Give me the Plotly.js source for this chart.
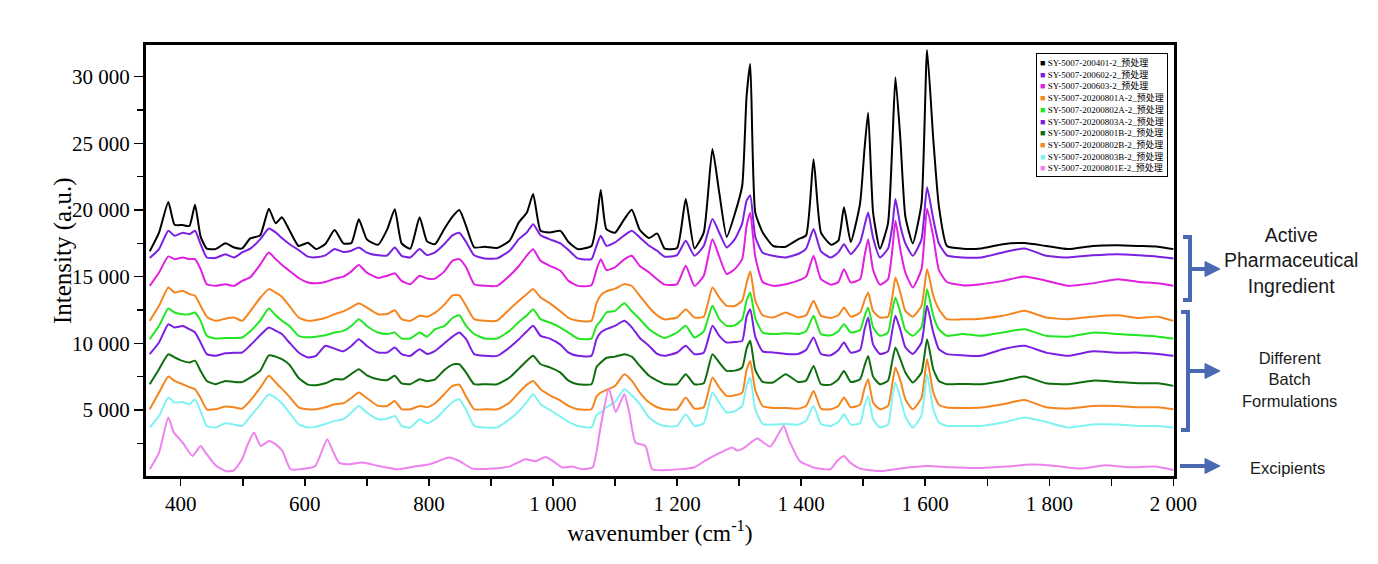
<!DOCTYPE html>
<html>
<head>
<meta charset="utf-8">
<script src="https://cdn.plot.ly/plotly-3.0.1.min.js"></script>
<style>html,body{margin:0;padding:0;background:#fff;}#chart{width:1378px;height:564px;}</style>
</head>
<body>
<div id="chart"></div>
<script>
// ---------------- data ----------------
const wavenumber = [350,365,380,390,403,414,423,432,442,456,
472,486,499,512,528,542,553,563,575,590,
605,618,633,648,662,675,687,700,718,733,
745,756,770,785,797,810,825,838,849,860,
873,890,910,930,945,958,968,980,995,1012,
1025,1040,1062,1070,1077,1086,1100,1115,1127,1140,
1155,1168,1180,1200,1214,1228,1243,1257,1268,1280,
1293,1305,1312,1318,1326,1338,1355,1375,1395,1408,
1420,1432,1448,1460,1469,1480,1495,1502,1508,1516,
1527,1540,1547,1552,1560,1568,1580,1594,1603,1613,
1622,1635,1660,1690,1725,1760,1795,1830,1870,1910,1945,1975,2000];

const api200401 = [16900,18300,20600,18900,18870,18800,20400,18000,17100,17066,
17500,17190,17120,17870,18100,20100,19000,19450,18500,17300,
17550,17066,17450,18500,17500,17515,19300,17800,17400,18570,
20050,17500,17100,19450,17650,17440,18600,19500,20000,18800,
17200,17240,17150,17690,19070,19820,21200,18440,18320,18440,
17600,17066,17300,19000,21500,18570,18300,19320,20020,18500,
17900,18245,17100,17150,20820,17120,18300,24570,21300,17990,
19700,21820,28500,30950,19820,18320,17300,17250,17800,18100,
23800,18300,17400,17700,20200,17600,20500,24500,27300,19800,
17100,19000,25000,29960,25300,19500,17500,20500,32000,25300,
20300,17300,17100,17120,17440,17520,17300,17066,17300,17350,17300,17250,17066];

const api200602 = [16400,17070,18440,18065,18300,18190,18440,17440,16440,16400,
16690,16440,16820,17100,17800,18620,18320,17900,17450,17000,
16500,16450,16600,17070,16850,16950,17190,16800,16600,16600,
17190,16565,16440,17070,16615,16820,17450,18100,18300,17600,
16600,16370,16370,16940,17815,18320,18940,18100,17800,17500,
17000,16370,16315,17300,18065,17315,17570,18100,18440,17940,
17315,16940,16500,16615,17690,16565,17300,19320,18300,17190,
17800,19000,20700,21100,18000,16800,16565,16440,16700,17100,
18570,16900,16440,16820,17440,16690,17570,18800,19820,17900,
16440,17100,18800,20820,18800,17500,16565,17800,21700,19320,
17500,16600,16440,16440,16820,17115,16565,16440,16600,16690,16600,16500,16365];

const api200603 = [14310,15315,16520,16315,16440,16315,16315,15565,14435,14310,
14435,14310,14685,14950,15900,16815,16315,15900,15450,14900,
14560,14500,14600,14850,15000,15400,15880,15300,14900,15065,
15250,14685,14435,15065,14865,14850,15400,16200,16315,15700,
14435,14310,14310,15065,15800,16600,17065,16190,15815,15440,
14685,14310,14360,15500,16315,15500,15700,16300,16565,15800,
15315,14800,14400,14435,15815,14310,15065,17815,16500,15190,
15565,16315,18800,19800,16500,14600,14310,14435,14700,15000,
16565,14810,14400,14600,15565,14560,14810,16500,17815,15500,
14400,14810,17000,19190,17000,15300,14190,15565,20100,18000,
15500,14600,14350,14435,14685,15015,14700,14310,14500,14810,14600,14500,14310];

const f20200801A = [11685,12810,14190,13815,13940,13690,13565,12810,12000,11685,
11850,11935,11685,12400,13400,14065,13800,13500,12810,11935,
11685,11750,11900,12185,12400,12700,13010,12685,12185,12200,
12485,11810,11685,12060,12000,12300,12900,13600,13600,12810,
11810,11685,11700,12560,13190,13700,14065,13440,13000,12400,
11900,11685,11685,13000,13600,13900,14100,14440,14300,13565,
12685,12100,11800,11935,12560,11935,12000,14190,13440,12810,
12800,13200,14500,15400,13200,12100,11935,12310,11950,12100,
13185,12060,11900,12100,12685,12000,12300,13200,13815,12400,
11935,12000,13500,14940,13800,12435,12000,12810,15565,13565,
12560,11810,11800,11850,12060,12435,11935,11810,12000,12100,11900,12000,11685];

const f20200802A = [10310,11310,12610,12310,12185,12185,12310,11685,10560,10360,
10400,10400,10435,10900,11700,12610,12100,11700,11310,10560,
10450,10500,10600,10810,10935,11300,11810,11300,10810,10700,
10800,10360,10360,10810,10500,11060,11300,11900,12110,11300,
10700,10360,10360,10935,11600,12100,12560,11810,11560,11185,
10800,10360,10350,11300,11690,12310,12435,13000,12400,11810,
11060,10650,10400,10810,11310,10435,10900,12810,11810,11310,
11350,11810,13200,13815,11900,10800,10690,10750,10700,10900,
12060,10690,10600,10900,11435,10810,11000,12000,12685,11200,
10560,10800,12500,13440,12300,11000,10560,11200,14060,12060,
11060,10560,10700,10560,10810,11060,10560,10500,10800,10700,10600,10500,10360];

const f20200803A = [9185,10060,11435,11185,11300,11060,10810,10060,9185,9060,
9250,9300,9310,9850,10600,11185,10950,10700,10060,9310,
8935,9060,9810,9600,9400,9800,10310,9800,9310,9310,
9685,9185,9060,9560,9200,9435,10000,10500,10810,10310,
9185,9060,9060,9685,10300,10900,11310,10560,10350,9900,
9300,9060,9060,10300,10810,11060,11310,11685,11200,10400,
9800,9200,9060,9310,9810,9185,9300,11310,10560,10060,
10100,10185,12000,12560,10500,9400,9310,9200,9200,9500,
10435,9200,9100,9500,10060,9300,9500,11000,11935,9900,
9200,9400,11000,12060,11000,9700,9200,10060,12810,10810,
9560,9185,9100,9060,9560,9810,9300,9060,9400,9300,9300,9200,9060];

const f20200801B = [6930,8060,9185,8950,8680,8555,8700,7930,7180,6930,
7180,7100,7100,7430,7930,9100,9000,8805,8400,7400,
6900,6855,7000,7310,7300,7700,8060,7600,7310,7250,
7560,7000,6930,7310,7150,7300,8000,8400,8430,7800,
6930,6930,6930,7430,8100,8700,9060,8430,8200,7800,
7200,6930,6930,8200,8555,8900,9000,9185,9000,8305,
7560,7200,6950,6930,7680,6930,7000,9185,8560,7930,
7950,8185,9600,10185,8000,7100,7060,7685,7100,7200,
8305,6930,6900,7300,7930,7100,7300,8300,9055,7500,
6930,7200,8700,9685,8800,7810,7060,7810,10310,8055,
7180,6930,6950,6930,7180,7510,7000,6930,7200,7100,7000,7000,6805];

const f20200802B = [5050,6305,7510,7180,6930,6700,6555,5900,5050,5050,
5250,5200,5100,5700,6650,7560,7055,6600,6000,5200,
5050,5050,5200,5430,5500,5900,6305,5900,5305,5300,
5680,5050,5050,5305,5200,5500,6200,6800,6900,6000,
5050,5050,5050,5555,6300,6900,7180,6555,6100,5700,
5300,5050,5050,6000,6305,6500,6800,7680,7200,6305,
5555,5200,5050,5050,5930,5100,5200,7430,6680,6055,
6100,6305,8000,8680,6500,5300,5150,5150,5100,5300,
6430,5100,5050,5300,5930,5200,5400,6600,7305,5555,
5050,5300,7000,8185,7200,5800,5050,5900,8805,6305,
5400,5180,5150,5180,5430,5750,5200,5100,5300,5300,5200,5200,5050];

const f20200803B = [3680,4555,5930,5555,5600,5430,5805,4900,3805,3680,
4000,3900,3800,4500,5400,6180,5900,5500,4805,3930,
3680,3750,3950,4180,4300,4800,5305,4800,4305,4350,
4555,3800,3680,4305,4000,4300,5000,5600,5805,5000,
3805,3680,3700,4305,4900,5600,6180,5430,5000,4500,
4100,3800,3700,4600,4805,5200,5600,6555,6100,5430,
4430,4000,3800,3800,4680,3800,4000,6305,5555,4805,
4900,5305,6800,7430,5055,3950,3900,3950,3900,4200,
5305,3930,3800,4100,4680,3900,4000,5300,6055,4305,
3700,3900,6000,7055,5900,4500,3680,4600,7680,5055,
4055,3805,3800,3800,4055,4430,4100,3680,3900,3900,3800,3800,3680];

const wavenumberExc = [350,365,380,389,403,419,432,440,456,472,
485,499,507,518,529,542,553,564,577,601,
617,636,644,655,671,692,719,751,777,801,
833,849,870,903,929,956,972,988,999,1015,
1031,1047,1064,1077,1090,1101,1115,1123,1133,1149,
1160,1187,1227,1249,1270,1289,1297,1308,1329,1350,
1372,1380,1398,1420,1447,1458,1469,1479,1495,1528,
1571,1603,1640,1690,1730,1770,1810,1850,1890,1930,1970,2000];

const exc20200801E = [550,1800,4430,3300,2550,1550,2300,1800,850,420,
450,1300,2300,3300,2300,2670,2420,1920,550,600,
800,2800,2050,1050,920,1050,800,550,750,920,
1430,1170,600,600,750,1300,1150,1470,1200,680,
750,550,700,3800,6610,4850,6180,4800,2550,2300,
550,500,680,1300,1800,2180,1950,2150,2850,2250,
3800,2800,1170,680,550,1170,1550,1050,600,420,
680,800,700,650,750,900,800,600,850,700,750,500];

const seriesNames = ["SY-5007-200401-2_预处理","SY-5007-200602-2_预处理","SY-5007-200603-2_预处理",
"SY-5007-20200801A-2_预处理","SY-5007-20200802A-2_预处理","SY-5007-20200803A-2_预处理",
"SY-5007-20200801B-2_预处理","SY-5007-20200802B-2_预处理","SY-5007-20200803B-2_预处理",
"SY-5007-20200801E-2_预处理"];
const seriesColors = ["#000000","#7b1fe0","#e01fe0","#f5851f","#22e622","#7b1fe0","#0e6e0e","#f5851f","#80f2f2","#ee82ee"];
const seriesY = [api200401,api200602,api200603,f20200801A,f20200802A,f20200803A,f20200801B,f20200802B,f20200803B,exc20200801E];
const seriesX = [wavenumber,wavenumber,wavenumber,wavenumber,wavenumber,wavenumber,wavenumber,wavenumber,wavenumber,wavenumberExc];

const groupLabels = ["Active<br>Pharmaceutical<br>Ingredient","Different<br>Batch<br>Formulations","Excipients"];
const xTitle = 'wavenumber (cm<sup>-1</sup>)';
const yTitle = 'Intensity (a.u.)';

// ---------------- layout helpers ----------------
const L = 146, R = 1174, T = 45, B = 476;
function px(x){ return (x - L) / (R - L); }
function py(y){ return (B - y) / (B - T); }

const traces = seriesY.map((ys, i) => ({
  type: 'scatter', mode: 'lines', x: seriesX[i], y: ys, name: seriesNames[i],
  line: {color: seriesColors[i], width: 2, shape: 'spline', smoothing: 0.5}, showlegend: false, hoverinfo: 'x+y+name'
}));

const legendText = seriesNames.map((n, i) =>
  '<span style="color:' + seriesColors[i] + '">■</span> ' + n).join('<br>');

const blue = '#4a69b3';
function P(pts){ return pts.map((p, k) => (k ? 'L' : 'M') + px(p[0]).toFixed(5) + ',' + py(p[1]).toFixed(5)).join(' '); }
function bracket(xv, y1, y2, xh){
  return {type:'path', xref:'paper', yref:'paper', path: P([[xh,y1],[xv,y1],[xv,y2],[xh,y2]]),
          line:{color:blue, width:4}};
}
function shaft(x1, x2, y){
  return {type:'line', xref:'paper', yref:'paper', x0:px(x1), x1:px(x2), y0:py(y), y1:py(y),
          line:{color:blue, width:4}};
}
function head(x1, x2, y){
  return {type:'path', xref:'paper', yref:'paper', path: P([[x1,y-7.5],[x2,y],[x1,y+7.5]]) + ' Z',
          fillcolor:blue, line:{color:blue, width:1}};
}

const shapes = [
  bracket(1190, 237, 300, 1183), shaft(1190, 1206, 269), head(1205, 1220, 269),
  bracket(1188, 312, 430, 1181), shaft(1188, 1206, 371), head(1205, 1220, 371),
  shaft(1180, 1206, 466), head(1205, 1220, 466)
];

const serif = 'Liberation Serif, Times New Roman, serif';
const annotations = [
  {xref:'paper', yref:'paper', x:px(1036), y:py(53), xanchor:'left', yanchor:'top', showarrow:false,
   text: legendText, align:'left', bgcolor:'#ffffff', bordercolor:'#000000', borderwidth:1, borderpad:3,
   font:{family:'Liberation Serif, Noto Sans CJK SC, serif', size:9, color:'#000'}},
  {xref:'paper', yref:'paper', x:px(1291), y:py(260), xanchor:'center', yanchor:'middle', showarrow:false,
   text: groupLabels[0], align:'center', font:{family:'Liberation Sans, Arial, sans-serif', size:19.5, color:'#1a1a1a'}},
  {xref:'paper', yref:'paper', x:px(1289), y:py(379), xanchor:'center', yanchor:'middle', showarrow:false,
   text: groupLabels[1], align:'center', font:{family:'Liberation Sans, Arial, sans-serif', size:16.5, color:'#1a1a1a'}},
  {xref:'paper', yref:'paper', x:px(1287), y:py(468), xanchor:'center', yanchor:'middle', showarrow:false,
   text: groupLabels[2], align:'center', font:{family:'Liberation Sans, Arial, sans-serif', size:16.5, color:'#1a1a1a'}},
  {xref:'paper', yref:'paper', x:px(63), y:py(251), xanchor:'center', yanchor:'middle', showarrow:false,
   text: yTitle, textangle:-90, font:{family:serif, size:25, color:'#000'}}
];

const tickFont = {family:serif, size:21, color:'#000'};
const layout = {
  width:1378, height:564,
  margin:{l:L, r:1378-R, t:T, b:564-B, pad:0},
  paper_bgcolor:'#ffffff', plot_bgcolor:'#ffffff',
  separators:'. ',
  showlegend:false,
  xaxis:{range:[344,2001], showgrid:false, zeroline:false, showline:true, linewidth:3, linecolor:'#000', mirror:true,
         ticks:'outside', ticklen:7, tickwidth:1.5, tickcolor:'#000', tick0:0, dtick:200, tickformat:',d',
         minor:{dtick:100, ticks:'outside', ticklen:7, tickwidth:1.5, tickcolor:'#000', showgrid:false},
         tickfont:tickFont,
         title:{text:xTitle, font:{family:serif, size:23.5, color:'#000'}, standoff:6}},
  yaxis:{range:[45,32380], showgrid:false, zeroline:false, showline:true, linewidth:3, linecolor:'#000', mirror:true,
         ticks:'outside', ticklen:9, tickwidth:1.5, tickcolor:'#000', tick0:0, dtick:5000, tickformat:',d',
         minor:{dtick:2500, ticks:'outside', ticklen:6, tickwidth:1.5, tickcolor:'#000', showgrid:false},
         tickfont:tickFont},
  shapes: shapes,
  annotations: annotations
};

Plotly.newPlot('chart', traces, layout, {displayModeBar:false, staticPlot:true});
</script>
</body>
</html>
